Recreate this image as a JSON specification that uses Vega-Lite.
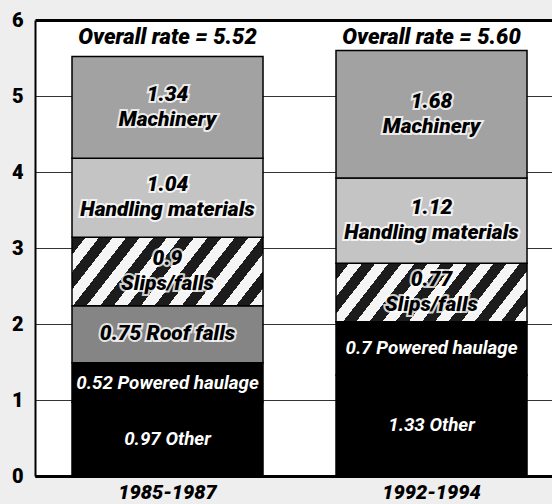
{
  "$schema": "https://vega.github.io/schema/vega-lite/v6.json",
  "width": 517,
  "height": 456,
  "autosize": {"type": "none"},
  "padding": {"left": 35, "top": 20, "right": 0, "bottom": 28},
  "background": "#eeeeee",
  "config": {"view": {"stroke": null, "fill": "white"}, "font": "Roboto"},
  "data": {"values": [
    {"period": "1985-1987", "category": "Other", "rate": 0.97, "label": "0.97 Other"},
    {"period": "1985-1987", "category": "Powered haulage", "rate": 0.52, "label": "0.52 Powered haulage"},
    {"period": "1985-1987", "category": "Roof falls", "rate": 0.75, "label": "0.75 Roof falls"},
    {"period": "1985-1987", "category": "Slips/falls", "rate": 0.9, "label": "0.9\nSlips/falls"},
    {"period": "1985-1987", "category": "Handling materials", "rate": 1.04, "label": "1.04\nHandling materials"},
    {"period": "1985-1987", "category": "Machinery", "rate": 1.34, "label": "1.34\nMachinery"},
    {"period": "1992-1994", "category": "Other", "rate": 1.33, "label": "1.33 Other"},
    {"period": "1992-1994", "category": "Powered haulage", "rate": 0.7, "label": "0.7 Powered haulage"},
    {"period": "1992-1994", "category": "Slips/falls", "rate": 0.77, "label": "0.77\nSlips/falls"},
    {"period": "1992-1994", "category": "Handling materials", "rate": 1.12, "label": "1.12\nHandling materials"},
    {"period": "1992-1994", "category": "Machinery", "rate": 1.68, "label": "1.68\nMachinery"}
  ]},
  "transform": [
    {"stack": "rate", "groupby": ["period"], "as": ["y0", "y1"]},
    {"calculate": "(datum.y0 + datum.y1) / 2", "as": "ymid"}
  ],
  "encoding": {
    "x": {
      "field": "period", "type": "nominal", "sort": null,
      "scale": {"paddingInner": 0.2765, "paddingOuter": 0.1174, "align": 0.597},
      "axis": {
        "title": null, "labelAngle": 0, "ticks": false, "domain": true,
        "domainColor": "black", "domainWidth": 3, "labelPadding": 6,
        "labelFont": "Roboto", "labelFontSize": 20, "labelFontWeight": 900,
        "labelFontStyle": "italic", "labelColor": "black"
      }
    }
  },
  "layer": [
    {
      "mark": {"type": "bar", "stroke": "black", "strokeWidth": 1.5},
      "encoding": {
        "y": {
          "field": "y0", "type": "quantitative",
          "scale": {"domain": [0, 6], "nice": false},
          "axis": {
            "title": null, "values": [0, 1, 2, 3, 4, 5, 6], "format": "d", "ticks": false,
            "domain": true, "domainColor": "black", "domainWidth": 2,
            "labelPadding": 12, "labelFont": "Roboto", "labelFontSize": 20,
            "labelFontWeight": 900, "labelColor": "black",
            "grid": true,
            "gridColor": {"condition": {"test": "datum.value === 0 || datum.value === 6", "value": "black"}, "value": "#333333"},
            "gridWidth": {"condition": {"test": "datum.value === 0 || datum.value === 6", "value": 3}, "value": 1}
          }
        },
        "y2": {"field": "y1"},
        "fill": {
          "condition": [
            {"test": "datum.category === 'Slips/falls' && datum.period === '1985-1987'",
             "value": {"gradient": "linear", "x1": 0, "y1": 0, "x2": 1.187, "y2": 0.332, "stops": [
              {"offset": 0, "color": "#1c1c1c"}, {"offset": 0.0556, "color": "#1c1c1c"}, {"offset": 0.0556, "color": "#f5f5f5"}, {"offset": 0.1111, "color": "#f5f5f5"},
              {"offset": 0.1111, "color": "#1c1c1c"}, {"offset": 0.1667, "color": "#1c1c1c"}, {"offset": 0.1667, "color": "#f5f5f5"}, {"offset": 0.2222, "color": "#f5f5f5"},
              {"offset": 0.2222, "color": "#1c1c1c"}, {"offset": 0.2778, "color": "#1c1c1c"}, {"offset": 0.2778, "color": "#f5f5f5"}, {"offset": 0.3333, "color": "#f5f5f5"},
              {"offset": 0.3333, "color": "#1c1c1c"}, {"offset": 0.3889, "color": "#1c1c1c"}, {"offset": 0.3889, "color": "#f5f5f5"}, {"offset": 0.4444, "color": "#f5f5f5"},
              {"offset": 0.4444, "color": "#1c1c1c"}, {"offset": 0.5, "color": "#1c1c1c"}, {"offset": 0.5, "color": "#f5f5f5"}, {"offset": 0.5556, "color": "#f5f5f5"},
              {"offset": 0.5556, "color": "#1c1c1c"}, {"offset": 0.6111, "color": "#1c1c1c"}, {"offset": 0.6111, "color": "#f5f5f5"}, {"offset": 0.6667, "color": "#f5f5f5"},
              {"offset": 0.6667, "color": "#1c1c1c"}, {"offset": 0.7222, "color": "#1c1c1c"}, {"offset": 0.7222, "color": "#f5f5f5"}, {"offset": 0.7778, "color": "#f5f5f5"},
              {"offset": 0.7778, "color": "#1c1c1c"}, {"offset": 0.8333, "color": "#1c1c1c"}, {"offset": 0.8333, "color": "#f5f5f5"}, {"offset": 0.8889, "color": "#f5f5f5"},
              {"offset": 0.8889, "color": "#1c1c1c"}, {"offset": 0.9444, "color": "#1c1c1c"}, {"offset": 0.9444, "color": "#f5f5f5"}, {"offset": 1, "color": "#f5f5f5"}
             ]}},
            {"test": "datum.category === 'Slips/falls' && datum.period === '1992-1994'",
             "value": {"gradient": "linear", "x1": 0, "y1": 0, "x2": 1.172, "y2": 0.28, "stops": [
              {"offset": 0, "color": "#1c1c1c"}, {"offset": 0.0556, "color": "#1c1c1c"}, {"offset": 0.0556, "color": "#f5f5f5"}, {"offset": 0.1111, "color": "#f5f5f5"},
              {"offset": 0.1111, "color": "#1c1c1c"}, {"offset": 0.1667, "color": "#1c1c1c"}, {"offset": 0.1667, "color": "#f5f5f5"}, {"offset": 0.2222, "color": "#f5f5f5"},
              {"offset": 0.2222, "color": "#1c1c1c"}, {"offset": 0.2778, "color": "#1c1c1c"}, {"offset": 0.2778, "color": "#f5f5f5"}, {"offset": 0.3333, "color": "#f5f5f5"},
              {"offset": 0.3333, "color": "#1c1c1c"}, {"offset": 0.3889, "color": "#1c1c1c"}, {"offset": 0.3889, "color": "#f5f5f5"}, {"offset": 0.4444, "color": "#f5f5f5"},
              {"offset": 0.4444, "color": "#1c1c1c"}, {"offset": 0.5, "color": "#1c1c1c"}, {"offset": 0.5, "color": "#f5f5f5"}, {"offset": 0.5556, "color": "#f5f5f5"},
              {"offset": 0.5556, "color": "#1c1c1c"}, {"offset": 0.6111, "color": "#1c1c1c"}, {"offset": 0.6111, "color": "#f5f5f5"}, {"offset": 0.6667, "color": "#f5f5f5"},
              {"offset": 0.6667, "color": "#1c1c1c"}, {"offset": 0.7222, "color": "#1c1c1c"}, {"offset": 0.7222, "color": "#f5f5f5"}, {"offset": 0.7778, "color": "#f5f5f5"},
              {"offset": 0.7778, "color": "#1c1c1c"}, {"offset": 0.8333, "color": "#1c1c1c"}, {"offset": 0.8333, "color": "#f5f5f5"}, {"offset": 0.8889, "color": "#f5f5f5"},
              {"offset": 0.8889, "color": "#1c1c1c"}, {"offset": 0.9444, "color": "#1c1c1c"}, {"offset": 0.9444, "color": "#f5f5f5"}, {"offset": 1, "color": "#f5f5f5"}
             ]}}
          ],
          "field": "category", "type": "nominal", "legend": null,
          "scale": {
            "domain": ["Other", "Powered haulage", "Roof falls", "Slips/falls", "Handling materials", "Machinery"],
            "range": ["#000000", "#000000", "#858585", "#777777", "#c4c4c4", "#a2a2a2"]
          }
        }
      }
    },
    {
      "transform": [{"filter": "datum.category === 'Machinery' || datum.category === 'Handling materials' || datum.category === 'Slips/falls'"}],
      "mark": {"type": "text", "font": "Roboto", "fontSize": 21, "fontWeight": 900, "fontStyle": "italic", "dy": -12.5,
               "lineHeight": 25, "lineBreak": "\n", "baseline": "middle", "align": "center", "color": "white", "stroke": "white", "strokeWidth": 4, "strokeOpacity": 0.8},
      "encoding": {
        "y": {"field": "ymid", "type": "quantitative"},
        "text": {"field": "label", "type": "nominal"}
      }
    },
    {
      "transform": [{"filter": "datum.category === 'Machinery' || datum.category === 'Handling materials' || datum.category === 'Slips/falls'"}],
      "mark": {"type": "text", "font": "Roboto", "fontSize": 21, "fontWeight": 900, "fontStyle": "italic", "dy": -12.5,
               "lineHeight": 25, "lineBreak": "\n", "baseline": "middle", "align": "center", "color": "black"},
      "encoding": {
        "y": {"field": "ymid", "type": "quantitative"},
        "text": {"field": "label", "type": "nominal"}
      }
    },
    {
      "transform": [{"filter": "datum.category === 'Roof falls'"}],
      "mark": {"type": "text", "font": "Roboto", "fontSize": 21, "fontWeight": 900, "fontStyle": "italic",
               "baseline": "middle", "align": "center", "color": "white", "stroke": "white", "strokeWidth": 4, "strokeOpacity": 0.8},
      "encoding": {
        "y": {"field": "ymid", "type": "quantitative"},
        "text": {"field": "label", "type": "nominal"}
      }
    },
    {
      "transform": [{"filter": "datum.category === 'Roof falls'"}],
      "mark": {"type": "text", "font": "Roboto", "fontSize": 21, "fontWeight": 900, "fontStyle": "italic",
               "baseline": "middle", "align": "center", "color": "black"},
      "encoding": {
        "y": {"field": "ymid", "type": "quantitative"},
        "text": {"field": "label", "type": "nominal"}
      }
    },
    {
      "transform": [{"filter": "datum.category === 'Other' || datum.category === 'Powered haulage'"}],
      "mark": {"type": "text", "font": "Roboto", "fontSize": 18.8, "fontWeight": "bold", "fontStyle": "italic",
               "baseline": "middle", "align": "center", "color": "white"},
      "encoding": {
        "y": {"field": "ymid", "type": "quantitative"},
        "text": {"field": "label", "type": "nominal"}
      }
    },
    {
      "transform": [
        {"aggregate": [{"op": "sum", "field": "rate", "as": "total"}], "groupby": ["period"]},
        {"calculate": "'Overall rate = ' + format(datum.total, '.2f')", "as": "overall"}
      ],
      "mark": {"type": "text", "font": "Roboto", "fontSize": 22, "fontWeight": 900, "fontStyle": "italic",
               "baseline": "alphabetic", "align": "center", "color": "black"},
      "encoding": {
        "y": {"datum": 5.68, "type": "quantitative"},
        "text": {"field": "overall", "type": "nominal"}
      }
    }
  ]
}
